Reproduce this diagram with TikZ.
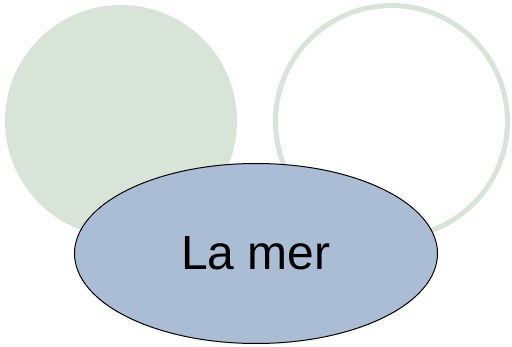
\documentclass[tikz,border=0pt]{standalone}
\usepackage{fontspec}
\setmainfont{Liberation Sans}
\usetikzlibrary{shapes.geometric}
\definecolor{sagegreen}{HTML}{D8E4D7}
\definecolor{seablue}{HTML}{ABBDD4}

\begin{document}
\begin{tikzpicture}[x=1pt, y=-1pt,
    bubble/.style={circle, inner sep=0pt, minimum size=232pt},
    sea/.style={ellipse, draw=black, line width=1pt, fill=seablue, inner sep=0pt,
        minimum width=363pt, minimum height=180pt, font=\fontsize{48}{58}\selectfont}]
    \useasboundingbox (0,0) rectangle (512,347);
    % The two background circles
    \node (left) at (121,121) [bubble, fill=sagegreen] {};
    \node (right) at (391.5,121.5) [bubble, draw=sagegreen, line width=5pt] {};
    
    % The ellipse in front
    \node (mer) at (256,253.5) [sea] {La mer};
\end{tikzpicture}
\end{document}
